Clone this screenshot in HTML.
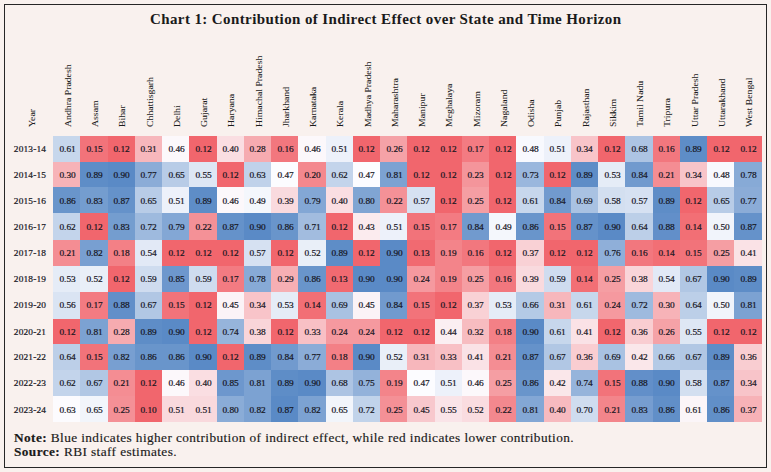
<!DOCTYPE html>
<html><head><meta charset="utf-8"><title>Chart 1</title>
<style>
html,body{margin:0;padding:0;}
body{width:771px;height:472px;background:#F9F1EE;position:relative;overflow:hidden;font-family:"Liberation Serif",serif;color:#16161e;}
.frame{position:absolute;left:4.1px;top:3.6px;width:763.3px;height:464px;border:1.3px solid #262626;box-sizing:border-box;}
.title{position:absolute;left:0;top:11px;width:771px;text-align:center;font-weight:bold;font-size:13.6px;line-height:18px;color:#1a1a1a;white-space:nowrap;}
.title span{display:inline-block;transform:scaleX(1.103);letter-spacing:0.36px;}
.c{position:absolute;text-align:center;font-size:8.7px;box-sizing:border-box;padding-left:0.6px;}
.c span,.y span{display:inline-block;transform:scaleX(1.075);-webkit-text-stroke:0.2px #16161e;}
.y{position:absolute;left:5.6px;width:48.6px;text-align:center;font-size:8.7px;letter-spacing:0.15px;}
.h{position:absolute;white-space:nowrap;font-size:8.8px;transform-origin:0 0;transform:rotate(-90deg) scaleX(1.11);line-height:12px;height:12px;color:#1c1c1c;-webkit-text-stroke:0.05px #1c1c1c;}
.note{position:absolute;left:13.6px;font-size:11.5px;line-height:14px;white-space:nowrap;color:#1a1a1a;letter-spacing:0.35px;transform-origin:0 0;transform:scaleX(1.156);-webkit-text-stroke:0.15px #1a1a1a;}
</style></head><body>
<div class="frame"></div>
<div class="title"><span>Chart 1: Contribution of Indirect Effect over State and Time Horizon</span></div>

<div class="h" style="left:25.80px;top:127.0px;">Year</div>
<div class="h" style="left:61.92px;top:127.0px;">Andhra Pradesh</div>
<div class="h" style="left:89.17px;top:127.0px;">Assam</div>
<div class="h" style="left:116.42px;top:127.0px;">Bihar</div>
<div class="h" style="left:143.66px;top:127.0px;">Chhattisgarh</div>
<div class="h" style="left:170.91px;top:127.0px;">Delhi</div>
<div class="h" style="left:198.15px;top:127.0px;">Gujarat</div>
<div class="h" style="left:225.40px;top:127.0px;">Haryana</div>
<div class="h" style="left:252.64px;top:127.0px;">Himachal Pradesh</div>
<div class="h" style="left:279.89px;top:127.0px;">Jharkhand</div>
<div class="h" style="left:307.14px;top:127.0px;">Karnataka</div>
<div class="h" style="left:334.38px;top:127.0px;">Kerala</div>
<div class="h" style="left:361.63px;top:127.0px;">Madhya Pradesh</div>
<div class="h" style="left:388.88px;top:127.0px;">Maharashtra</div>
<div class="h" style="left:416.12px;top:127.0px;">Manipur</div>
<div class="h" style="left:443.37px;top:127.0px;">Meghalaya</div>
<div class="h" style="left:470.61px;top:127.0px;">Mizoram</div>
<div class="h" style="left:497.86px;top:127.0px;">Nagaland</div>
<div class="h" style="left:525.11px;top:127.0px;">Odisha</div>
<div class="h" style="left:552.35px;top:127.0px;">Punjab</div>
<div class="h" style="left:579.60px;top:127.0px;">Rajasthan</div>
<div class="h" style="left:606.84px;top:127.0px;">Sikkim</div>
<div class="h" style="left:634.09px;top:127.0px;">Tamil Nadu</div>
<div class="h" style="left:661.34px;top:127.0px;">Tripura</div>
<div class="h" style="left:688.58px;top:127.0px;">Uttar Pradesh</div>
<div class="h" style="left:715.83px;top:127.0px;">Uttarakhand</div>
<div class="h" style="left:743.07px;top:127.0px;">West Bengal</div>
<div class="y" style="top:135.9px;height:25.6px;line-height:26.90px;"><span>2013-14</span></div>
<div class="c" style="left:53.1px;top:135.9px;width:27.85px;height:26.2px;line-height:26.90px;background:rgb(199,215,236);"><span>0.61</span></div>
<div class="c" style="left:80.35px;top:135.9px;width:27.84px;height:26.2px;line-height:26.90px;background:rgb(242,115,122);"><span>0.15</span></div>
<div class="c" style="left:107.59px;top:135.9px;width:27.85px;height:26.2px;line-height:26.90px;background:rgb(241,102,109);"><span>0.12</span></div>
<div class="c" style="left:134.84px;top:135.9px;width:27.84px;height:26.2px;line-height:26.90px;background:rgb(247,183,188);"><span>0.31</span></div>
<div class="c" style="left:162.08px;top:135.9px;width:27.85px;height:26.2px;line-height:26.90px;background:rgb(252,248,251);"><span>0.46</span></div>
<div class="c" style="left:189.33px;top:135.9px;width:27.85px;height:26.2px;line-height:26.90px;background:rgb(241,102,109);"><span>0.12</span></div>
<div class="c" style="left:216.58px;top:135.9px;width:27.84px;height:26.2px;line-height:26.90px;background:rgb(250,222,226);"><span>0.40</span></div>
<div class="c" style="left:243.82px;top:135.9px;width:27.85px;height:26.2px;line-height:26.90px;background:rgb(246,171,176);"><span>0.28</span></div>
<div class="c" style="left:271.07px;top:135.9px;width:27.84px;height:26.2px;line-height:26.90px;background:rgb(242,119,126);"><span>0.16</span></div>
<div class="c" style="left:298.31px;top:135.9px;width:27.85px;height:26.2px;line-height:26.90px;background:rgb(252,248,251);"><span>0.46</span></div>
<div class="c" style="left:325.56px;top:135.9px;width:27.85px;height:26.2px;line-height:26.90px;background:rgb(237,241,250);"><span>0.51</span></div>
<div class="c" style="left:352.81px;top:135.9px;width:27.84px;height:26.2px;line-height:26.90px;background:rgb(241,102,109);"><span>0.12</span></div>
<div class="c" style="left:380.05px;top:135.9px;width:27.85px;height:26.2px;line-height:26.90px;background:rgb(245,162,167);"><span>0.26</span></div>
<div class="c" style="left:407.3px;top:135.9px;width:27.84px;height:26.2px;line-height:26.90px;background:rgb(241,102,109);"><span>0.12</span></div>
<div class="c" style="left:434.54px;top:135.9px;width:27.85px;height:26.2px;line-height:26.90px;background:rgb(241,102,109);"><span>0.12</span></div>
<div class="c" style="left:461.79px;top:135.9px;width:27.85px;height:26.2px;line-height:26.90px;background:rgb(243,123,130);"><span>0.17</span></div>
<div class="c" style="left:489.04px;top:135.9px;width:27.84px;height:26.2px;line-height:26.90px;background:rgb(241,102,109);"><span>0.12</span></div>
<div class="c" style="left:516.28px;top:135.9px;width:27.85px;height:26.2px;line-height:26.90px;background:rgb(248,249,254);"><span>0.48</span></div>
<div class="c" style="left:543.53px;top:135.9px;width:27.84px;height:26.2px;line-height:26.90px;background:rgb(237,241,250);"><span>0.51</span></div>
<div class="c" style="left:570.77px;top:135.9px;width:27.85px;height:26.2px;line-height:26.90px;background:rgb(248,196,201);"><span>0.34</span></div>
<div class="c" style="left:598.02px;top:135.9px;width:27.85px;height:26.2px;line-height:26.90px;background:rgb(241,102,109);"><span>0.12</span></div>
<div class="c" style="left:625.27px;top:135.9px;width:27.84px;height:26.2px;line-height:26.90px;background:rgb(173,196,227);"><span>0.68</span></div>
<div class="c" style="left:652.51px;top:135.9px;width:27.85px;height:26.2px;line-height:26.90px;background:rgb(242,119,126);"><span>0.16</span></div>
<div class="c" style="left:679.76px;top:135.9px;width:27.84px;height:26.2px;line-height:26.90px;background:rgb(94,141,199);"><span>0.89</span></div>
<div class="c" style="left:707.0px;top:135.9px;width:27.85px;height:26.2px;line-height:26.90px;background:rgb(241,102,109);"><span>0.12</span></div>
<div class="c" style="left:734.25px;top:135.9px;width:27.25px;height:26.2px;line-height:26.90px;background:rgb(241,102,109);"><span>0.12</span></div>
<div class="y" style="top:161.5px;height:25.8px;line-height:27.90px;"><span>2014-15</span></div>
<div class="c" style="left:53.1px;top:161.5px;width:27.85px;height:26.4px;line-height:27.90px;background:rgb(247,179,184);"><span>0.30</span></div>
<div class="c" style="left:80.35px;top:161.5px;width:27.84px;height:26.4px;line-height:27.90px;background:rgb(94,141,199);"><span>0.89</span></div>
<div class="c" style="left:107.59px;top:161.5px;width:27.85px;height:26.4px;line-height:27.90px;background:rgb(90,138,198);"><span>0.90</span></div>
<div class="c" style="left:134.84px;top:161.5px;width:27.84px;height:26.4px;line-height:27.90px;background:rgb(139,172,215);"><span>0.77</span></div>
<div class="c" style="left:162.08px;top:161.5px;width:27.85px;height:26.4px;line-height:27.90px;background:rgb(184,204,231);"><span>0.65</span></div>
<div class="c" style="left:189.33px;top:161.5px;width:27.85px;height:26.4px;line-height:27.90px;background:rgb(222,231,244);"><span>0.55</span></div>
<div class="c" style="left:216.58px;top:161.5px;width:27.84px;height:26.4px;line-height:27.90px;background:rgb(241,102,109);"><span>0.12</span></div>
<div class="c" style="left:243.82px;top:161.5px;width:27.85px;height:26.4px;line-height:27.90px;background:rgb(192,210,234);"><span>0.63</span></div>
<div class="c" style="left:271.07px;top:161.5px;width:27.84px;height:26.4px;line-height:27.90px;background:rgb(252,252,255);"><span>0.47</span></div>
<div class="c" style="left:298.31px;top:161.5px;width:27.85px;height:26.4px;line-height:27.90px;background:rgb(244,136,142);"><span>0.20</span></div>
<div class="c" style="left:325.56px;top:161.5px;width:27.85px;height:26.4px;line-height:27.90px;background:rgb(195,212,235);"><span>0.62</span></div>
<div class="c" style="left:352.81px;top:161.5px;width:27.84px;height:26.4px;line-height:27.90px;background:rgb(252,252,255);"><span>0.47</span></div>
<div class="c" style="left:380.05px;top:161.5px;width:27.85px;height:26.4px;line-height:27.90px;background:rgb(124,162,210);"><span>0.81</span></div>
<div class="c" style="left:407.3px;top:161.5px;width:27.84px;height:26.4px;line-height:27.90px;background:rgb(241,102,109);"><span>0.12</span></div>
<div class="c" style="left:434.54px;top:161.5px;width:27.85px;height:26.4px;line-height:27.90px;background:rgb(241,102,109);"><span>0.12</span></div>
<div class="c" style="left:461.79px;top:161.5px;width:27.85px;height:26.4px;line-height:27.90px;background:rgb(244,149,155);"><span>0.23</span></div>
<div class="c" style="left:489.04px;top:161.5px;width:27.84px;height:26.4px;line-height:27.90px;background:rgb(241,102,109);"><span>0.12</span></div>
<div class="c" style="left:516.28px;top:161.5px;width:27.85px;height:26.4px;line-height:27.90px;background:rgb(154,183,221);"><span>0.73</span></div>
<div class="c" style="left:543.53px;top:161.5px;width:27.84px;height:26.4px;line-height:27.90px;background:rgb(241,102,109);"><span>0.12</span></div>
<div class="c" style="left:570.77px;top:161.5px;width:27.85px;height:26.4px;line-height:27.90px;background:rgb(94,141,199);"><span>0.89</span></div>
<div class="c" style="left:598.02px;top:161.5px;width:27.85px;height:26.4px;line-height:27.90px;background:rgb(229,236,247);"><span>0.53</span></div>
<div class="c" style="left:625.27px;top:161.5px;width:27.84px;height:26.4px;line-height:27.90px;background:rgb(113,154,206);"><span>0.84</span></div>
<div class="c" style="left:652.51px;top:161.5px;width:27.85px;height:26.4px;line-height:27.90px;background:rgb(244,141,147);"><span>0.21</span></div>
<div class="c" style="left:679.76px;top:161.5px;width:27.84px;height:26.4px;line-height:27.90px;background:rgb(248,196,201);"><span>0.34</span></div>
<div class="c" style="left:707.0px;top:161.5px;width:27.85px;height:26.4px;line-height:27.90px;background:rgb(248,249,254);"><span>0.48</span></div>
<div class="c" style="left:734.25px;top:161.5px;width:27.25px;height:26.4px;line-height:27.90px;background:rgb(135,170,214);"><span>0.78</span></div>
<div class="y" style="top:187.3px;height:26.1px;line-height:28.50px;"><span>2015-16</span></div>
<div class="c" style="left:53.1px;top:187.3px;width:27.85px;height:26.7px;line-height:28.50px;background:rgb(105,149,203);"><span>0.86</span></div>
<div class="c" style="left:80.35px;top:187.3px;width:27.84px;height:26.7px;line-height:28.50px;background:rgb(116,157,207);"><span>0.83</span></div>
<div class="c" style="left:107.59px;top:187.3px;width:27.85px;height:26.7px;line-height:28.50px;background:rgb(101,146,202);"><span>0.87</span></div>
<div class="c" style="left:134.84px;top:187.3px;width:27.84px;height:26.7px;line-height:28.50px;background:rgb(184,204,231);"><span>0.65</span></div>
<div class="c" style="left:162.08px;top:187.3px;width:27.85px;height:26.7px;line-height:28.50px;background:rgb(237,241,250);"><span>0.51</span></div>
<div class="c" style="left:189.33px;top:187.3px;width:27.85px;height:26.7px;line-height:28.50px;background:rgb(94,141,199);"><span>0.89</span></div>
<div class="c" style="left:216.58px;top:187.3px;width:27.84px;height:26.7px;line-height:28.50px;background:rgb(252,248,251);"><span>0.46</span></div>
<div class="c" style="left:243.82px;top:187.3px;width:27.85px;height:26.7px;line-height:28.50px;background:rgb(244,247,252);"><span>0.49</span></div>
<div class="c" style="left:271.07px;top:187.3px;width:27.84px;height:26.7px;line-height:28.50px;background:rgb(249,218,222);"><span>0.39</span></div>
<div class="c" style="left:298.31px;top:187.3px;width:27.85px;height:26.7px;line-height:28.50px;background:rgb(131,167,213);"><span>0.79</span></div>
<div class="c" style="left:325.56px;top:187.3px;width:27.85px;height:26.7px;line-height:28.50px;background:rgb(250,222,226);"><span>0.40</span></div>
<div class="c" style="left:352.81px;top:187.3px;width:27.84px;height:26.7px;line-height:28.50px;background:rgb(128,165,211);"><span>0.80</span></div>
<div class="c" style="left:380.05px;top:187.3px;width:27.85px;height:26.7px;line-height:28.50px;background:rgb(244,145,151);"><span>0.22</span></div>
<div class="c" style="left:407.3px;top:187.3px;width:27.84px;height:26.7px;line-height:28.50px;background:rgb(214,225,242);"><span>0.57</span></div>
<div class="c" style="left:434.54px;top:187.3px;width:27.85px;height:26.7px;line-height:28.50px;background:rgb(241,102,109);"><span>0.12</span></div>
<div class="c" style="left:461.79px;top:187.3px;width:27.85px;height:26.7px;line-height:28.50px;background:rgb(245,158,163);"><span>0.25</span></div>
<div class="c" style="left:489.04px;top:187.3px;width:27.84px;height:26.7px;line-height:28.50px;background:rgb(241,102,109);"><span>0.12</span></div>
<div class="c" style="left:516.28px;top:187.3px;width:27.85px;height:26.7px;line-height:28.50px;background:rgb(199,215,236);"><span>0.61</span></div>
<div class="c" style="left:543.53px;top:187.3px;width:27.84px;height:26.7px;line-height:28.50px;background:rgb(113,154,206);"><span>0.84</span></div>
<div class="c" style="left:570.77px;top:187.3px;width:27.85px;height:26.7px;line-height:28.50px;background:rgb(169,194,226);"><span>0.69</span></div>
<div class="c" style="left:598.02px;top:187.3px;width:27.85px;height:26.7px;line-height:28.50px;background:rgb(211,223,240);"><span>0.58</span></div>
<div class="c" style="left:625.27px;top:187.3px;width:27.84px;height:26.7px;line-height:28.50px;background:rgb(214,225,242);"><span>0.57</span></div>
<div class="c" style="left:652.51px;top:187.3px;width:27.85px;height:26.7px;line-height:28.50px;background:rgb(94,141,199);"><span>0.89</span></div>
<div class="c" style="left:679.76px;top:187.3px;width:27.84px;height:26.7px;line-height:28.50px;background:rgb(241,102,109);"><span>0.12</span></div>
<div class="c" style="left:707.0px;top:187.3px;width:27.85px;height:26.7px;line-height:28.50px;background:rgb(184,204,231);"><span>0.65</span></div>
<div class="c" style="left:734.25px;top:187.3px;width:27.25px;height:26.7px;line-height:28.50px;background:rgb(139,172,215);"><span>0.77</span></div>
<div class="y" style="top:213.4px;height:26.6px;line-height:28.50px;"><span>2016-17</span></div>
<div class="c" style="left:53.1px;top:213.4px;width:27.85px;height:27.2px;line-height:28.50px;background:rgb(195,212,235);"><span>0.62</span></div>
<div class="c" style="left:80.35px;top:213.4px;width:27.84px;height:27.2px;line-height:28.50px;background:rgb(241,102,109);"><span>0.12</span></div>
<div class="c" style="left:107.59px;top:213.4px;width:27.85px;height:27.2px;line-height:28.50px;background:rgb(116,157,207);"><span>0.83</span></div>
<div class="c" style="left:134.84px;top:213.4px;width:27.84px;height:27.2px;line-height:28.50px;background:rgb(158,186,222);"><span>0.72</span></div>
<div class="c" style="left:162.08px;top:213.4px;width:27.85px;height:27.2px;line-height:28.50px;background:rgb(131,167,213);"><span>0.79</span></div>
<div class="c" style="left:189.33px;top:213.4px;width:27.85px;height:27.2px;line-height:28.50px;background:rgb(244,145,151);"><span>0.22</span></div>
<div class="c" style="left:216.58px;top:213.4px;width:27.84px;height:27.2px;line-height:28.50px;background:rgb(101,146,202);"><span>0.87</span></div>
<div class="c" style="left:243.82px;top:213.4px;width:27.85px;height:27.2px;line-height:28.50px;background:rgb(90,138,198);"><span>0.90</span></div>
<div class="c" style="left:271.07px;top:213.4px;width:27.84px;height:27.2px;line-height:28.50px;background:rgb(105,149,203);"><span>0.86</span></div>
<div class="c" style="left:298.31px;top:213.4px;width:27.85px;height:27.2px;line-height:28.50px;background:rgb(162,188,223);"><span>0.71</span></div>
<div class="c" style="left:325.56px;top:213.4px;width:27.85px;height:27.2px;line-height:28.50px;background:rgb(241,102,109);"><span>0.12</span></div>
<div class="c" style="left:352.81px;top:213.4px;width:27.84px;height:27.2px;line-height:28.50px;background:rgb(251,235,238);"><span>0.43</span></div>
<div class="c" style="left:380.05px;top:213.4px;width:27.85px;height:27.2px;line-height:28.50px;background:rgb(237,241,250);"><span>0.51</span></div>
<div class="c" style="left:407.3px;top:213.4px;width:27.84px;height:27.2px;line-height:28.50px;background:rgb(242,115,122);"><span>0.15</span></div>
<div class="c" style="left:434.54px;top:213.4px;width:27.85px;height:27.2px;line-height:28.50px;background:rgb(243,123,130);"><span>0.17</span></div>
<div class="c" style="left:461.79px;top:213.4px;width:27.85px;height:27.2px;line-height:28.50px;background:rgb(113,154,206);"><span>0.84</span></div>
<div class="c" style="left:489.04px;top:213.4px;width:27.84px;height:27.2px;line-height:28.50px;background:rgb(244,247,252);"><span>0.49</span></div>
<div class="c" style="left:516.28px;top:213.4px;width:27.85px;height:27.2px;line-height:28.50px;background:rgb(105,149,203);"><span>0.86</span></div>
<div class="c" style="left:543.53px;top:213.4px;width:27.84px;height:27.2px;line-height:28.50px;background:rgb(242,115,122);"><span>0.15</span></div>
<div class="c" style="left:570.77px;top:213.4px;width:27.85px;height:27.2px;line-height:28.50px;background:rgb(101,146,202);"><span>0.87</span></div>
<div class="c" style="left:598.02px;top:213.4px;width:27.85px;height:27.2px;line-height:28.50px;background:rgb(90,138,198);"><span>0.90</span></div>
<div class="c" style="left:625.27px;top:213.4px;width:27.84px;height:27.2px;line-height:28.50px;background:rgb(188,207,232);"><span>0.64</span></div>
<div class="c" style="left:652.51px;top:213.4px;width:27.85px;height:27.2px;line-height:28.50px;background:rgb(98,143,201);"><span>0.88</span></div>
<div class="c" style="left:679.76px;top:213.4px;width:27.84px;height:27.2px;line-height:28.50px;background:rgb(242,111,117);"><span>0.14</span></div>
<div class="c" style="left:707.0px;top:213.4px;width:27.85px;height:27.2px;line-height:28.50px;background:rgb(241,244,251);"><span>0.50</span></div>
<div class="c" style="left:734.25px;top:213.4px;width:27.25px;height:27.2px;line-height:28.50px;background:rgb(101,146,202);"><span>0.87</span></div>
<div class="y" style="top:240.0px;height:26.0px;line-height:27.50px;"><span>2017-18</span></div>
<div class="c" style="left:53.1px;top:240.0px;width:27.85px;height:26.6px;line-height:27.50px;background:rgb(244,141,147);"><span>0.21</span></div>
<div class="c" style="left:80.35px;top:240.0px;width:27.84px;height:26.6px;line-height:27.50px;background:rgb(120,159,209);"><span>0.82</span></div>
<div class="c" style="left:107.59px;top:240.0px;width:27.85px;height:26.6px;line-height:27.50px;background:rgb(243,128,134);"><span>0.18</span></div>
<div class="c" style="left:134.84px;top:240.0px;width:27.84px;height:26.6px;line-height:27.50px;background:rgb(226,233,246);"><span>0.54</span></div>
<div class="c" style="left:162.08px;top:240.0px;width:27.85px;height:26.6px;line-height:27.50px;background:rgb(241,102,109);"><span>0.12</span></div>
<div class="c" style="left:189.33px;top:240.0px;width:27.85px;height:26.6px;line-height:27.50px;background:rgb(241,102,109);"><span>0.12</span></div>
<div class="c" style="left:216.58px;top:240.0px;width:27.84px;height:26.6px;line-height:27.50px;background:rgb(241,102,109);"><span>0.12</span></div>
<div class="c" style="left:243.82px;top:240.0px;width:27.85px;height:26.6px;line-height:27.50px;background:rgb(214,225,242);"><span>0.57</span></div>
<div class="c" style="left:271.07px;top:240.0px;width:27.84px;height:26.6px;line-height:27.50px;background:rgb(241,102,109);"><span>0.12</span></div>
<div class="c" style="left:298.31px;top:240.0px;width:27.85px;height:26.6px;line-height:27.50px;background:rgb(233,239,248);"><span>0.52</span></div>
<div class="c" style="left:325.56px;top:240.0px;width:27.85px;height:26.6px;line-height:27.50px;background:rgb(94,141,199);"><span>0.89</span></div>
<div class="c" style="left:352.81px;top:240.0px;width:27.84px;height:26.6px;line-height:27.50px;background:rgb(241,102,109);"><span>0.12</span></div>
<div class="c" style="left:380.05px;top:240.0px;width:27.85px;height:26.6px;line-height:27.50px;background:rgb(90,138,198);"><span>0.90</span></div>
<div class="c" style="left:407.3px;top:240.0px;width:27.84px;height:26.6px;line-height:27.50px;background:rgb(241,106,113);"><span>0.13</span></div>
<div class="c" style="left:434.54px;top:240.0px;width:27.85px;height:26.6px;line-height:27.50px;background:rgb(243,132,138);"><span>0.19</span></div>
<div class="c" style="left:461.79px;top:240.0px;width:27.85px;height:26.6px;line-height:27.50px;background:rgb(242,119,126);"><span>0.16</span></div>
<div class="c" style="left:489.04px;top:240.0px;width:27.84px;height:26.6px;line-height:27.50px;background:rgb(241,102,109);"><span>0.12</span></div>
<div class="c" style="left:516.28px;top:240.0px;width:27.85px;height:26.6px;line-height:27.50px;background:rgb(249,209,213);"><span>0.37</span></div>
<div class="c" style="left:543.53px;top:240.0px;width:27.84px;height:26.6px;line-height:27.50px;background:rgb(241,102,109);"><span>0.12</span></div>
<div class="c" style="left:570.77px;top:240.0px;width:27.85px;height:26.6px;line-height:27.50px;background:rgb(241,102,109);"><span>0.12</span></div>
<div class="c" style="left:598.02px;top:240.0px;width:27.85px;height:26.6px;line-height:27.50px;background:rgb(143,175,217);"><span>0.76</span></div>
<div class="c" style="left:625.27px;top:240.0px;width:27.84px;height:26.6px;line-height:27.50px;background:rgb(242,119,126);"><span>0.16</span></div>
<div class="c" style="left:652.51px;top:240.0px;width:27.85px;height:26.6px;line-height:27.50px;background:rgb(242,111,117);"><span>0.14</span></div>
<div class="c" style="left:679.76px;top:240.0px;width:27.84px;height:26.6px;line-height:27.50px;background:rgb(242,115,122);"><span>0.15</span></div>
<div class="c" style="left:707.0px;top:240.0px;width:27.85px;height:26.6px;line-height:27.50px;background:rgb(245,158,163);"><span>0.25</span></div>
<div class="c" style="left:734.25px;top:240.0px;width:27.25px;height:26.6px;line-height:27.50px;background:rgb(250,226,230);"><span>0.41</span></div>
<div class="y" style="top:266.0px;height:26.1px;line-height:27.70px;"><span>2018-19</span></div>
<div class="c" style="left:53.1px;top:266.0px;width:27.85px;height:26.7px;line-height:27.70px;background:rgb(229,236,247);"><span>0.53</span></div>
<div class="c" style="left:80.35px;top:266.0px;width:27.84px;height:26.7px;line-height:27.70px;background:rgb(233,239,248);"><span>0.52</span></div>
<div class="c" style="left:107.59px;top:266.0px;width:27.85px;height:26.7px;line-height:27.70px;background:rgb(241,102,109);"><span>0.12</span></div>
<div class="c" style="left:134.84px;top:266.0px;width:27.84px;height:26.7px;line-height:27.70px;background:rgb(207,220,239);"><span>0.59</span></div>
<div class="c" style="left:162.08px;top:266.0px;width:27.85px;height:26.7px;line-height:27.70px;background:rgb(109,151,205);"><span>0.85</span></div>
<div class="c" style="left:189.33px;top:266.0px;width:27.85px;height:26.7px;line-height:27.70px;background:rgb(207,220,239);"><span>0.59</span></div>
<div class="c" style="left:216.58px;top:266.0px;width:27.84px;height:26.7px;line-height:27.70px;background:rgb(243,123,130);"><span>0.17</span></div>
<div class="c" style="left:243.82px;top:266.0px;width:27.85px;height:26.7px;line-height:27.70px;background:rgb(135,170,214);"><span>0.78</span></div>
<div class="c" style="left:271.07px;top:266.0px;width:27.84px;height:26.7px;line-height:27.70px;background:rgb(246,175,180);"><span>0.29</span></div>
<div class="c" style="left:298.31px;top:266.0px;width:27.85px;height:26.7px;line-height:27.70px;background:rgb(105,149,203);"><span>0.86</span></div>
<div class="c" style="left:325.56px;top:266.0px;width:27.85px;height:26.7px;line-height:27.70px;background:rgb(241,106,113);"><span>0.13</span></div>
<div class="c" style="left:352.81px;top:266.0px;width:27.84px;height:26.7px;line-height:27.70px;background:rgb(90,138,198);"><span>0.90</span></div>
<div class="c" style="left:380.05px;top:266.0px;width:27.85px;height:26.7px;line-height:27.70px;background:rgb(90,138,198);"><span>0.90</span></div>
<div class="c" style="left:407.3px;top:266.0px;width:27.84px;height:26.7px;line-height:27.70px;background:rgb(245,153,159);"><span>0.24</span></div>
<div class="c" style="left:434.54px;top:266.0px;width:27.85px;height:26.7px;line-height:27.70px;background:rgb(243,132,138);"><span>0.19</span></div>
<div class="c" style="left:461.79px;top:266.0px;width:27.85px;height:26.7px;line-height:27.70px;background:rgb(245,158,163);"><span>0.25</span></div>
<div class="c" style="left:489.04px;top:266.0px;width:27.84px;height:26.7px;line-height:27.70px;background:rgb(242,119,126);"><span>0.16</span></div>
<div class="c" style="left:516.28px;top:266.0px;width:27.85px;height:26.7px;line-height:27.70px;background:rgb(249,218,222);"><span>0.39</span></div>
<div class="c" style="left:543.53px;top:266.0px;width:27.84px;height:26.7px;line-height:27.70px;background:rgb(207,220,239);"><span>0.59</span></div>
<div class="c" style="left:570.77px;top:266.0px;width:27.85px;height:26.7px;line-height:27.70px;background:rgb(242,111,117);"><span>0.14</span></div>
<div class="c" style="left:598.02px;top:266.0px;width:27.85px;height:26.7px;line-height:27.70px;background:rgb(245,158,163);"><span>0.25</span></div>
<div class="c" style="left:625.27px;top:266.0px;width:27.84px;height:26.7px;line-height:27.70px;background:rgb(249,213,217);"><span>0.38</span></div>
<div class="c" style="left:652.51px;top:266.0px;width:27.85px;height:26.7px;line-height:27.70px;background:rgb(226,233,246);"><span>0.54</span></div>
<div class="c" style="left:679.76px;top:266.0px;width:27.84px;height:26.7px;line-height:27.70px;background:rgb(177,199,228);"><span>0.67</span></div>
<div class="c" style="left:707.0px;top:266.0px;width:27.85px;height:26.7px;line-height:27.70px;background:rgb(90,138,198);"><span>0.90</span></div>
<div class="c" style="left:734.25px;top:266.0px;width:27.25px;height:26.7px;line-height:27.70px;background:rgb(94,141,199);"><span>0.89</span></div>
<div class="y" style="top:292.1px;height:26.4px;line-height:27.70px;"><span>2019-20</span></div>
<div class="c" style="left:53.1px;top:292.1px;width:27.85px;height:27.0px;line-height:27.70px;background:rgb(218,228,243);"><span>0.56</span></div>
<div class="c" style="left:80.35px;top:292.1px;width:27.84px;height:27.0px;line-height:27.70px;background:rgb(243,123,130);"><span>0.17</span></div>
<div class="c" style="left:107.59px;top:292.1px;width:27.85px;height:27.0px;line-height:27.70px;background:rgb(98,143,201);"><span>0.88</span></div>
<div class="c" style="left:134.84px;top:292.1px;width:27.84px;height:27.0px;line-height:27.70px;background:rgb(177,199,228);"><span>0.67</span></div>
<div class="c" style="left:162.08px;top:292.1px;width:27.85px;height:27.0px;line-height:27.70px;background:rgb(242,115,122);"><span>0.15</span></div>
<div class="c" style="left:189.33px;top:292.1px;width:27.85px;height:27.0px;line-height:27.70px;background:rgb(241,102,109);"><span>0.12</span></div>
<div class="c" style="left:216.58px;top:292.1px;width:27.84px;height:27.0px;line-height:27.70px;background:rgb(251,243,247);"><span>0.45</span></div>
<div class="c" style="left:243.82px;top:292.1px;width:27.85px;height:27.0px;line-height:27.70px;background:rgb(248,196,201);"><span>0.34</span></div>
<div class="c" style="left:271.07px;top:292.1px;width:27.84px;height:27.0px;line-height:27.70px;background:rgb(229,236,247);"><span>0.53</span></div>
<div class="c" style="left:298.31px;top:292.1px;width:27.85px;height:27.0px;line-height:27.70px;background:rgb(242,111,117);"><span>0.14</span></div>
<div class="c" style="left:325.56px;top:292.1px;width:27.85px;height:27.0px;line-height:27.70px;background:rgb(169,194,226);"><span>0.69</span></div>
<div class="c" style="left:352.81px;top:292.1px;width:27.84px;height:27.0px;line-height:27.70px;background:rgb(251,243,247);"><span>0.45</span></div>
<div class="c" style="left:380.05px;top:292.1px;width:27.85px;height:27.0px;line-height:27.70px;background:rgb(113,154,206);"><span>0.84</span></div>
<div class="c" style="left:407.3px;top:292.1px;width:27.84px;height:27.0px;line-height:27.70px;background:rgb(242,115,122);"><span>0.15</span></div>
<div class="c" style="left:434.54px;top:292.1px;width:27.85px;height:27.0px;line-height:27.70px;background:rgb(241,102,109);"><span>0.12</span></div>
<div class="c" style="left:461.79px;top:292.1px;width:27.85px;height:27.0px;line-height:27.70px;background:rgb(249,209,213);"><span>0.37</span></div>
<div class="c" style="left:489.04px;top:292.1px;width:27.84px;height:27.0px;line-height:27.70px;background:rgb(229,236,247);"><span>0.53</span></div>
<div class="c" style="left:516.28px;top:292.1px;width:27.85px;height:27.0px;line-height:27.70px;background:rgb(180,202,230);"><span>0.66</span></div>
<div class="c" style="left:543.53px;top:292.1px;width:27.84px;height:27.0px;line-height:27.70px;background:rgb(247,183,188);"><span>0.31</span></div>
<div class="c" style="left:570.77px;top:292.1px;width:27.85px;height:27.0px;line-height:27.70px;background:rgb(199,215,236);"><span>0.61</span></div>
<div class="c" style="left:598.02px;top:292.1px;width:27.85px;height:27.0px;line-height:27.70px;background:rgb(245,153,159);"><span>0.24</span></div>
<div class="c" style="left:625.27px;top:292.1px;width:27.84px;height:27.0px;line-height:27.70px;background:rgb(158,186,222);"><span>0.72</span></div>
<div class="c" style="left:652.51px;top:292.1px;width:27.85px;height:27.0px;line-height:27.70px;background:rgb(247,179,184);"><span>0.30</span></div>
<div class="c" style="left:679.76px;top:292.1px;width:27.84px;height:27.0px;line-height:27.70px;background:rgb(188,207,232);"><span>0.64</span></div>
<div class="c" style="left:707.0px;top:292.1px;width:27.85px;height:27.0px;line-height:27.70px;background:rgb(241,244,251);"><span>0.50</span></div>
<div class="c" style="left:734.25px;top:292.1px;width:27.25px;height:27.0px;line-height:27.70px;background:rgb(124,162,210);"><span>0.81</span></div>
<div class="y" style="top:318.5px;height:25.9px;line-height:27.10px;"><span>2020-21</span></div>
<div class="c" style="left:53.1px;top:318.5px;width:27.85px;height:26.5px;line-height:27.10px;background:rgb(241,102,109);"><span>0.12</span></div>
<div class="c" style="left:80.35px;top:318.5px;width:27.84px;height:26.5px;line-height:27.10px;background:rgb(124,162,210);"><span>0.81</span></div>
<div class="c" style="left:107.59px;top:318.5px;width:27.85px;height:26.5px;line-height:27.10px;background:rgb(246,171,176);"><span>0.28</span></div>
<div class="c" style="left:134.84px;top:318.5px;width:27.84px;height:26.5px;line-height:27.10px;background:rgb(94,141,199);"><span>0.89</span></div>
<div class="c" style="left:162.08px;top:318.5px;width:27.85px;height:26.5px;line-height:27.10px;background:rgb(90,138,198);"><span>0.90</span></div>
<div class="c" style="left:189.33px;top:318.5px;width:27.85px;height:26.5px;line-height:27.10px;background:rgb(241,102,109);"><span>0.12</span></div>
<div class="c" style="left:216.58px;top:318.5px;width:27.84px;height:26.5px;line-height:27.10px;background:rgb(150,180,219);"><span>0.74</span></div>
<div class="c" style="left:243.82px;top:318.5px;width:27.85px;height:26.5px;line-height:27.10px;background:rgb(249,213,217);"><span>0.38</span></div>
<div class="c" style="left:271.07px;top:318.5px;width:27.84px;height:26.5px;line-height:27.10px;background:rgb(241,102,109);"><span>0.12</span></div>
<div class="c" style="left:298.31px;top:318.5px;width:27.85px;height:26.5px;line-height:27.10px;background:rgb(248,192,197);"><span>0.33</span></div>
<div class="c" style="left:325.56px;top:318.5px;width:27.85px;height:26.5px;line-height:27.10px;background:rgb(245,153,159);"><span>0.24</span></div>
<div class="c" style="left:352.81px;top:318.5px;width:27.84px;height:26.5px;line-height:27.10px;background:rgb(245,153,159);"><span>0.24</span></div>
<div class="c" style="left:380.05px;top:318.5px;width:27.85px;height:26.5px;line-height:27.10px;background:rgb(241,102,109);"><span>0.12</span></div>
<div class="c" style="left:407.3px;top:318.5px;width:27.84px;height:26.5px;line-height:27.10px;background:rgb(241,102,109);"><span>0.12</span></div>
<div class="c" style="left:434.54px;top:318.5px;width:27.85px;height:26.5px;line-height:27.10px;background:rgb(251,239,242);"><span>0.44</span></div>
<div class="c" style="left:461.79px;top:318.5px;width:27.85px;height:26.5px;line-height:27.10px;background:rgb(247,188,192);"><span>0.32</span></div>
<div class="c" style="left:489.04px;top:318.5px;width:27.84px;height:26.5px;line-height:27.10px;background:rgb(243,128,134);"><span>0.18</span></div>
<div class="c" style="left:516.28px;top:318.5px;width:27.85px;height:26.5px;line-height:27.10px;background:rgb(90,138,198);"><span>0.90</span></div>
<div class="c" style="left:543.53px;top:318.5px;width:27.84px;height:26.5px;line-height:27.10px;background:rgb(199,215,236);"><span>0.61</span></div>
<div class="c" style="left:570.77px;top:318.5px;width:27.85px;height:26.5px;line-height:27.10px;background:rgb(250,226,230);"><span>0.41</span></div>
<div class="c" style="left:598.02px;top:318.5px;width:27.85px;height:26.5px;line-height:27.10px;background:rgb(241,102,109);"><span>0.12</span></div>
<div class="c" style="left:625.27px;top:318.5px;width:27.84px;height:26.5px;line-height:27.10px;background:rgb(249,205,209);"><span>0.36</span></div>
<div class="c" style="left:652.51px;top:318.5px;width:27.85px;height:26.5px;line-height:27.10px;background:rgb(245,162,167);"><span>0.26</span></div>
<div class="c" style="left:679.76px;top:318.5px;width:27.84px;height:26.5px;line-height:27.10px;background:rgb(222,231,244);"><span>0.55</span></div>
<div class="c" style="left:707.0px;top:318.5px;width:27.85px;height:26.5px;line-height:27.10px;background:rgb(241,102,109);"><span>0.12</span></div>
<div class="c" style="left:734.25px;top:318.5px;width:27.25px;height:26.5px;line-height:27.10px;background:rgb(241,102,109);"><span>0.12</span></div>
<div class="y" style="top:344.4px;height:25.9px;line-height:27.50px;"><span>2021-22</span></div>
<div class="c" style="left:53.1px;top:344.4px;width:27.85px;height:26.5px;line-height:27.50px;background:rgb(188,207,232);"><span>0.64</span></div>
<div class="c" style="left:80.35px;top:344.4px;width:27.84px;height:26.5px;line-height:27.50px;background:rgb(242,115,122);"><span>0.15</span></div>
<div class="c" style="left:107.59px;top:344.4px;width:27.85px;height:26.5px;line-height:27.50px;background:rgb(120,159,209);"><span>0.82</span></div>
<div class="c" style="left:134.84px;top:344.4px;width:27.84px;height:26.5px;line-height:27.50px;background:rgb(105,149,203);"><span>0.86</span></div>
<div class="c" style="left:162.08px;top:344.4px;width:27.85px;height:26.5px;line-height:27.50px;background:rgb(105,149,203);"><span>0.86</span></div>
<div class="c" style="left:189.33px;top:344.4px;width:27.85px;height:26.5px;line-height:27.50px;background:rgb(90,138,198);"><span>0.90</span></div>
<div class="c" style="left:216.58px;top:344.4px;width:27.84px;height:26.5px;line-height:27.50px;background:rgb(241,102,109);"><span>0.12</span></div>
<div class="c" style="left:243.82px;top:344.4px;width:27.85px;height:26.5px;line-height:27.50px;background:rgb(94,141,199);"><span>0.89</span></div>
<div class="c" style="left:271.07px;top:344.4px;width:27.84px;height:26.5px;line-height:27.50px;background:rgb(113,154,206);"><span>0.84</span></div>
<div class="c" style="left:298.31px;top:344.4px;width:27.85px;height:26.5px;line-height:27.50px;background:rgb(139,172,215);"><span>0.77</span></div>
<div class="c" style="left:325.56px;top:344.4px;width:27.85px;height:26.5px;line-height:27.50px;background:rgb(243,128,134);"><span>0.18</span></div>
<div class="c" style="left:352.81px;top:344.4px;width:27.84px;height:26.5px;line-height:27.50px;background:rgb(90,138,198);"><span>0.90</span></div>
<div class="c" style="left:380.05px;top:344.4px;width:27.85px;height:26.5px;line-height:27.50px;background:rgb(233,239,248);"><span>0.52</span></div>
<div class="c" style="left:407.3px;top:344.4px;width:27.84px;height:26.5px;line-height:27.50px;background:rgb(247,183,188);"><span>0.31</span></div>
<div class="c" style="left:434.54px;top:344.4px;width:27.85px;height:26.5px;line-height:27.50px;background:rgb(248,192,197);"><span>0.33</span></div>
<div class="c" style="left:461.79px;top:344.4px;width:27.85px;height:26.5px;line-height:27.50px;background:rgb(250,226,230);"><span>0.41</span></div>
<div class="c" style="left:489.04px;top:344.4px;width:27.84px;height:26.5px;line-height:27.50px;background:rgb(244,141,147);"><span>0.21</span></div>
<div class="c" style="left:516.28px;top:344.4px;width:27.85px;height:26.5px;line-height:27.50px;background:rgb(101,146,202);"><span>0.87</span></div>
<div class="c" style="left:543.53px;top:344.4px;width:27.84px;height:26.5px;line-height:27.50px;background:rgb(177,199,228);"><span>0.67</span></div>
<div class="c" style="left:570.77px;top:344.4px;width:27.85px;height:26.5px;line-height:27.50px;background:rgb(249,205,209);"><span>0.36</span></div>
<div class="c" style="left:598.02px;top:344.4px;width:27.85px;height:26.5px;line-height:27.50px;background:rgb(169,194,226);"><span>0.69</span></div>
<div class="c" style="left:625.27px;top:344.4px;width:27.84px;height:26.5px;line-height:27.50px;background:rgb(250,231,234);"><span>0.42</span></div>
<div class="c" style="left:652.51px;top:344.4px;width:27.85px;height:26.5px;line-height:27.50px;background:rgb(180,202,230);"><span>0.66</span></div>
<div class="c" style="left:679.76px;top:344.4px;width:27.84px;height:26.5px;line-height:27.50px;background:rgb(177,199,228);"><span>0.67</span></div>
<div class="c" style="left:707.0px;top:344.4px;width:27.85px;height:26.5px;line-height:27.50px;background:rgb(94,141,199);"><span>0.89</span></div>
<div class="c" style="left:734.25px;top:344.4px;width:27.25px;height:26.5px;line-height:27.50px;background:rgb(249,205,209);"><span>0.36</span></div>
<div class="y" style="top:370.3px;height:26.0px;line-height:27.90px;"><span>2022-23</span></div>
<div class="c" style="left:53.1px;top:370.3px;width:27.85px;height:26.6px;line-height:27.90px;background:rgb(195,212,235);"><span>0.62</span></div>
<div class="c" style="left:80.35px;top:370.3px;width:27.84px;height:26.6px;line-height:27.90px;background:rgb(177,199,228);"><span>0.67</span></div>
<div class="c" style="left:107.59px;top:370.3px;width:27.85px;height:26.6px;line-height:27.90px;background:rgb(244,141,147);"><span>0.21</span></div>
<div class="c" style="left:134.84px;top:370.3px;width:27.84px;height:26.6px;line-height:27.90px;background:rgb(241,102,109);"><span>0.12</span></div>
<div class="c" style="left:162.08px;top:370.3px;width:27.85px;height:26.6px;line-height:27.90px;background:rgb(252,248,251);"><span>0.46</span></div>
<div class="c" style="left:189.33px;top:370.3px;width:27.85px;height:26.6px;line-height:27.90px;background:rgb(250,222,226);"><span>0.40</span></div>
<div class="c" style="left:216.58px;top:370.3px;width:27.84px;height:26.6px;line-height:27.90px;background:rgb(109,151,205);"><span>0.85</span></div>
<div class="c" style="left:243.82px;top:370.3px;width:27.85px;height:26.6px;line-height:27.90px;background:rgb(124,162,210);"><span>0.81</span></div>
<div class="c" style="left:271.07px;top:370.3px;width:27.84px;height:26.6px;line-height:27.90px;background:rgb(94,141,199);"><span>0.89</span></div>
<div class="c" style="left:298.31px;top:370.3px;width:27.85px;height:26.6px;line-height:27.90px;background:rgb(90,138,198);"><span>0.90</span></div>
<div class="c" style="left:325.56px;top:370.3px;width:27.85px;height:26.6px;line-height:27.90px;background:rgb(173,196,227);"><span>0.68</span></div>
<div class="c" style="left:352.81px;top:370.3px;width:27.84px;height:26.6px;line-height:27.90px;background:rgb(147,178,218);"><span>0.75</span></div>
<div class="c" style="left:380.05px;top:370.3px;width:27.85px;height:26.6px;line-height:27.90px;background:rgb(243,132,138);"><span>0.19</span></div>
<div class="c" style="left:407.3px;top:370.3px;width:27.84px;height:26.6px;line-height:27.90px;background:rgb(252,252,255);"><span>0.47</span></div>
<div class="c" style="left:434.54px;top:370.3px;width:27.85px;height:26.6px;line-height:27.90px;background:rgb(237,241,250);"><span>0.51</span></div>
<div class="c" style="left:461.79px;top:370.3px;width:27.85px;height:26.6px;line-height:27.90px;background:rgb(252,248,251);"><span>0.46</span></div>
<div class="c" style="left:489.04px;top:370.3px;width:27.84px;height:26.6px;line-height:27.90px;background:rgb(245,158,163);"><span>0.25</span></div>
<div class="c" style="left:516.28px;top:370.3px;width:27.85px;height:26.6px;line-height:27.90px;background:rgb(105,149,203);"><span>0.86</span></div>
<div class="c" style="left:543.53px;top:370.3px;width:27.84px;height:26.6px;line-height:27.90px;background:rgb(250,231,234);"><span>0.42</span></div>
<div class="c" style="left:570.77px;top:370.3px;width:27.85px;height:26.6px;line-height:27.90px;background:rgb(150,180,219);"><span>0.74</span></div>
<div class="c" style="left:598.02px;top:370.3px;width:27.85px;height:26.6px;line-height:27.90px;background:rgb(242,115,122);"><span>0.15</span></div>
<div class="c" style="left:625.27px;top:370.3px;width:27.84px;height:26.6px;line-height:27.90px;background:rgb(98,143,201);"><span>0.88</span></div>
<div class="c" style="left:652.51px;top:370.3px;width:27.85px;height:26.6px;line-height:27.90px;background:rgb(90,138,198);"><span>0.90</span></div>
<div class="c" style="left:679.76px;top:370.3px;width:27.84px;height:26.6px;line-height:27.90px;background:rgb(211,223,240);"><span>0.58</span></div>
<div class="c" style="left:707.0px;top:370.3px;width:27.85px;height:26.6px;line-height:27.90px;background:rgb(101,146,202);"><span>0.87</span></div>
<div class="c" style="left:734.25px;top:370.3px;width:27.25px;height:26.6px;line-height:27.90px;background:rgb(248,196,201);"><span>0.34</span></div>
<div class="y" style="top:396.3px;height:25.9px;line-height:28.10px;"><span>2023-24</span></div>
<div class="c" style="left:53.1px;top:396.3px;width:27.85px;height:25.9px;line-height:28.10px;background:rgb(252,251,254);"><span>0.63</span></div>
<div class="c" style="left:80.35px;top:396.3px;width:27.84px;height:25.9px;line-height:28.10px;background:rgb(242,245,251);"><span>0.65</span></div>
<div class="c" style="left:107.59px;top:396.3px;width:27.85px;height:25.9px;line-height:28.10px;background:rgb(244,144,150);"><span>0.25</span></div>
<div class="c" style="left:134.84px;top:396.3px;width:27.84px;height:25.9px;line-height:28.10px;background:rgb(241,102,109);"><span>0.10</span></div>
<div class="c" style="left:162.08px;top:396.3px;width:27.85px;height:25.9px;line-height:28.10px;background:rgb(249,217,221);"><span>0.51</span></div>
<div class="c" style="left:189.33px;top:396.3px;width:27.85px;height:25.9px;line-height:28.10px;background:rgb(249,217,221);"><span>0.51</span></div>
<div class="c" style="left:216.58px;top:396.3px;width:27.84px;height:25.9px;line-height:28.10px;background:rgb(138,172,215);"><span>0.80</span></div>
<div class="c" style="left:243.82px;top:396.3px;width:27.85px;height:25.9px;line-height:28.10px;background:rgb(124,162,210);"><span>0.82</span></div>
<div class="c" style="left:271.07px;top:396.3px;width:27.84px;height:25.9px;line-height:28.10px;background:rgb(90,138,198);"><span>0.87</span></div>
<div class="c" style="left:298.31px;top:396.3px;width:27.85px;height:25.9px;line-height:28.10px;background:rgb(124,162,210);"><span>0.82</span></div>
<div class="c" style="left:325.56px;top:396.3px;width:27.85px;height:25.9px;line-height:28.10px;background:rgb(242,245,251);"><span>0.65</span></div>
<div class="c" style="left:352.81px;top:396.3px;width:27.84px;height:25.9px;line-height:28.10px;background:rgb(193,211,234);"><span>0.72</span></div>
<div class="c" style="left:380.05px;top:396.3px;width:27.85px;height:25.9px;line-height:28.10px;background:rgb(244,144,150);"><span>0.25</span></div>
<div class="c" style="left:407.3px;top:396.3px;width:27.84px;height:25.9px;line-height:28.10px;background:rgb(248,200,205);"><span>0.45</span></div>
<div class="c" style="left:434.54px;top:396.3px;width:27.85px;height:25.9px;line-height:28.10px;background:rgb(250,228,232);"><span>0.55</span></div>
<div class="c" style="left:461.79px;top:396.3px;width:27.85px;height:25.9px;line-height:28.10px;background:rgb(250,220,224);"><span>0.52</span></div>
<div class="c" style="left:489.04px;top:396.3px;width:27.84px;height:25.9px;line-height:28.10px;background:rgb(243,136,142);"><span>0.22</span></div>
<div class="c" style="left:516.28px;top:396.3px;width:27.85px;height:25.9px;line-height:28.10px;background:rgb(131,167,213);"><span>0.81</span></div>
<div class="c" style="left:543.53px;top:396.3px;width:27.84px;height:25.9px;line-height:28.10px;background:rgb(247,186,191);"><span>0.40</span></div>
<div class="c" style="left:570.77px;top:396.3px;width:27.85px;height:25.9px;line-height:28.10px;background:rgb(207,220,239);"><span>0.70</span></div>
<div class="c" style="left:598.02px;top:396.3px;width:27.85px;height:25.9px;line-height:28.10px;background:rgb(243,133,139);"><span>0.21</span></div>
<div class="c" style="left:625.27px;top:396.3px;width:27.84px;height:25.9px;line-height:28.10px;background:rgb(118,157,208);"><span>0.83</span></div>
<div class="c" style="left:652.51px;top:396.3px;width:27.85px;height:25.9px;line-height:28.10px;background:rgb(97,143,200);"><span>0.86</span></div>
<div class="c" style="left:679.76px;top:396.3px;width:27.84px;height:25.9px;line-height:28.10px;background:rgb(251,245,248);"><span>0.61</span></div>
<div class="c" style="left:707.0px;top:396.3px;width:27.85px;height:25.9px;line-height:28.10px;background:rgb(97,143,200);"><span>0.86</span></div>
<div class="c" style="left:734.25px;top:396.3px;width:27.25px;height:25.9px;line-height:28.10px;background:rgb(247,178,183);"><span>0.37</span></div>
<div class="note" style="top:430.6px;"><b>Note:</b> Blue indicates higher contribution of indirect effect, while red indicates lower contribution.</div>
<div class="note" style="top:445.1px;"><b>Source:</b> RBI staff estimates.</div>
</body></html>
